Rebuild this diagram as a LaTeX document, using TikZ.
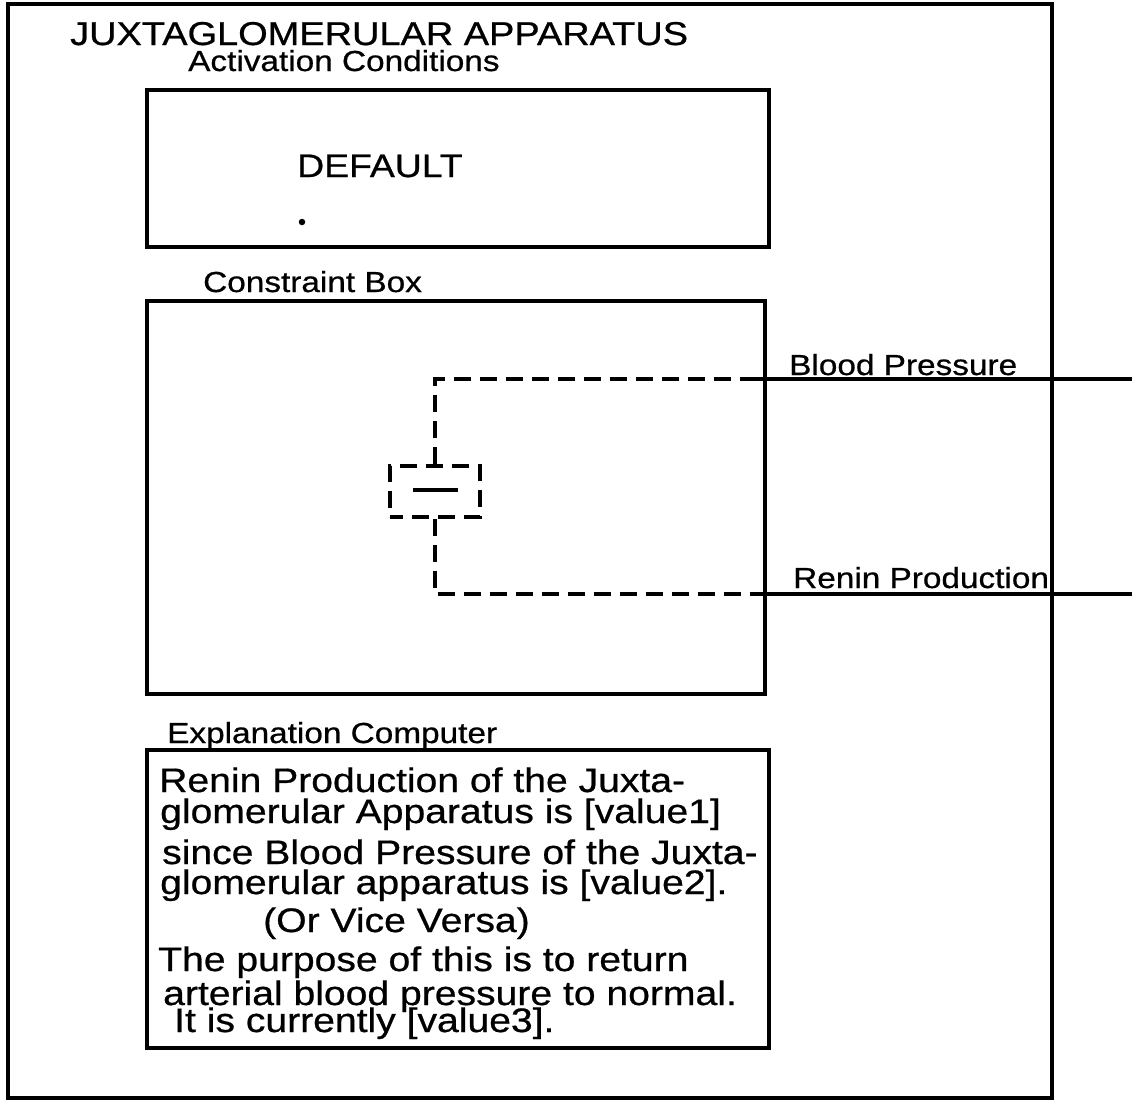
\documentclass[tikz,border=0pt]{standalone}
\usepackage{fontspec}
\setmainfont{Liberation Sans}[FakeStretch=1.15, FakeBold=0.7]
\usetikzlibrary{positioning}

\tikzset{
  frame/.style={draw, line width=4.5pt},
  panel/.style={draw, line width=3.8pt, inner sep=0pt, anchor=north west},
  wire/.style={line width=3.6pt},
  dashwire/.style={line width=3.6pt, dash pattern=on 17pt off 9pt},
  title/.style={font=\fontsize{33}{33}\selectfont, inner sep=0pt, anchor=base west,
    text height=0.72em, text depth=0pt},
  lbl/.style={font=\fontsize{29}{29}\selectfont, inner sep=0pt, anchor=base west,
    text height=0.72em, text depth=0.1em},
  expl/.style={font=\fontsize{34}{34}\selectfont, inner sep=0pt, anchor=base west,
    text height=0.72em, text depth=0.05em},
}

\begin{document}
\begin{tikzpicture}[x=1pt, y=-1pt]
  \useasboundingbox (0,0) rectangle (1132,1101);
  \draw[frame] (8,4) rectangle (1052,1098);

  % activation part
  \node[title] (head) at (70,45) {JUXTAGLOMERULAR APPARATUS};
  \node[lbl] (actlbl) at (188,71) {Activation Conditions};
  \node[panel, minimum width=622pt, minimum height=157pt] (actbox) at (145,88) {};
  \node[lbl, font=\fontsize{32.5}{32.5}\selectfont] (default) at (297,177) {DEFAULT};
  \node[circle, fill, inner sep=0pt, minimum size=6.5pt] (dot) at (302,222) {};

  % constraint part
  \node[lbl] (conlbl) at (203,292) {Constraint Box};
  \node[panel, minimum width=618pt, minimum height=393pt] (conbox) at (145,299) {};
  \node[draw, line width=3.6pt, dash pattern=on 17pt off 9pt, dash phase=4pt,
        minimum width=90pt, minimum height=51pt] (cmp) at (435,491.5) {};
  \draw[wire] (413,490) -- (458,490);
  \coordinate (bpjoin) at (750,379);
  \coordinate (bpend) at (1132,379);
  \coordinate (rpjoin) at (750,594);
  \coordinate (rpend) at (1132,594);
  \draw[dashwire] (cmp.north) |- (bpjoin);
  \draw[dashwire] (cmp.south) |- (rpjoin);
  \draw[wire] (bpjoin) -- (bpend);
  \draw[wire] (rpjoin) -- (rpend);
  \node[lbl] (bplbl) at (789,375) {Blood Pressure};
  \node[lbl] (rplbl) at (793,588) {Renin Production};

  % explanation part
  \node[lbl] (explbl) at (167,743) {Explanation Computer};
  \node[panel, minimum width=622pt, minimum height=298pt] (expbox) at (145,748) {};
  \node[expl] (e1) at (159,792) {Renin Production of the Juxta-};
  \node[expl] (e2) at (160,823) {glomerular Apparatus is [value1]};
  \node[expl] (e3) at (162,864) {since Blood Pressure of the Juxta-};
  \node[expl] (e4) at (160,894) {glomerular apparatus is [value2].};
  \node[expl] (e5) at (263,932) {(Or Vice Versa)};
  \node[expl] (e6) at (158,971) {The purpose of this is to return};
  \node[expl] (e7) at (163,1005) {arterial blood pressure to normal.};
  \node[expl] (e8) at (174,1032) {It is currently [value3].};
\end{tikzpicture}
\end{document}
